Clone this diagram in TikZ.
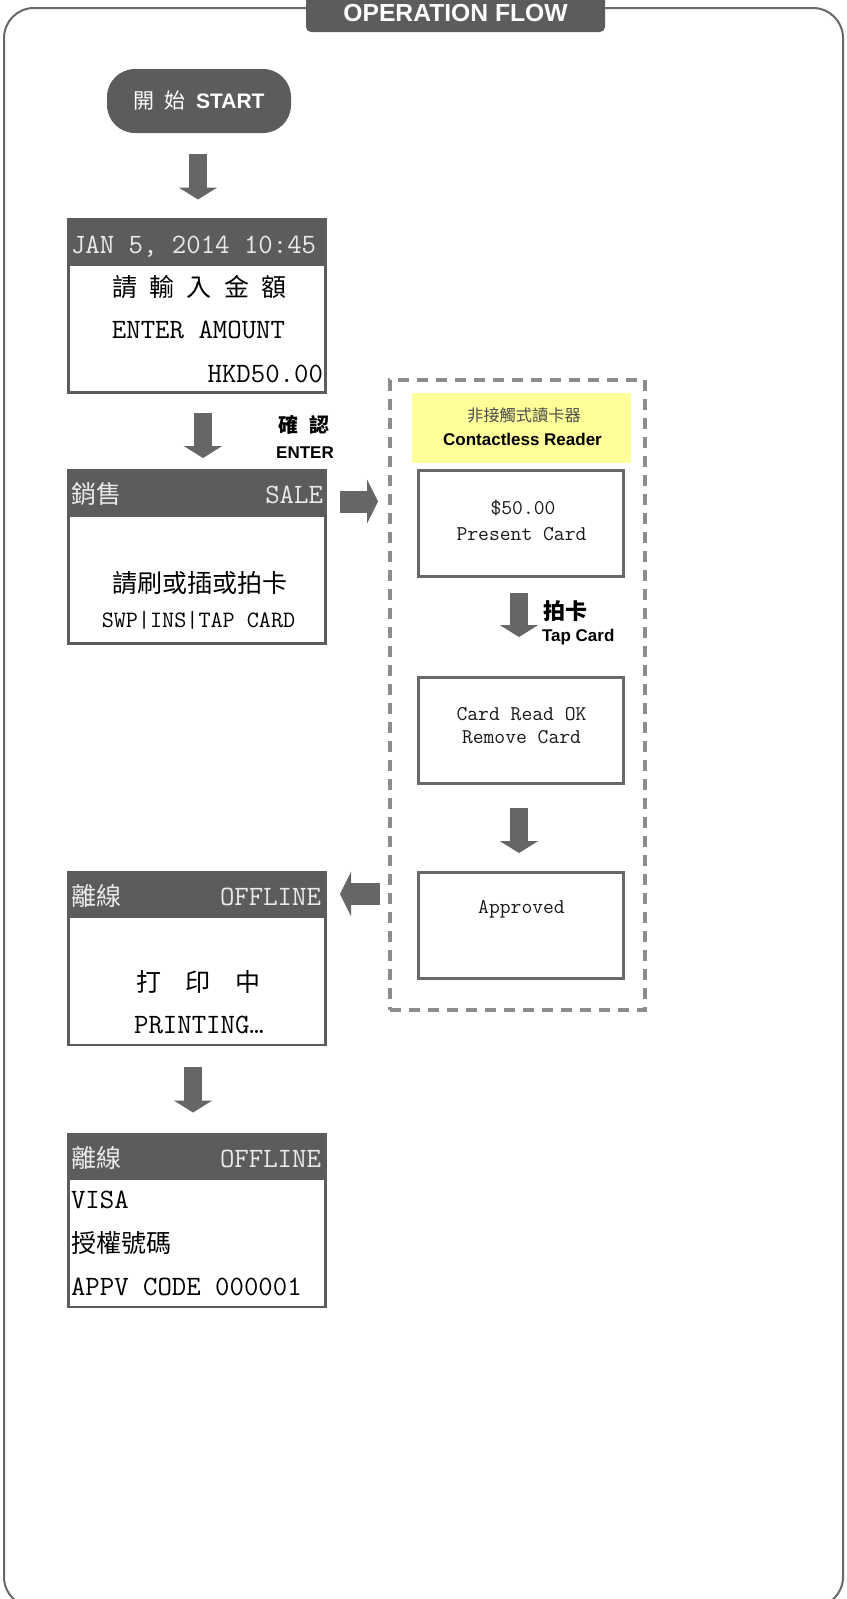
\documentclass[tikz,border=0pt]{standalone}
\usepackage{fontspec}
\setsansfont{Liberation Sans}
\newfontfamily\cjk[WordSpace=2.2]{Noto Sans CJK TC}
\usetikzlibrary{arrows.meta,calc}
\definecolor{panel}{HTML}{5C5C5C}
\definecolor{rim}{HTML}{686868}
\definecolor{flowgray}{HTML}{666666}
\definecolor{dashgray}{HTML}{8C8C8C}
\definecolor{hdrtext}{HTML}{EAEAEA}
\definecolor{readerbg}{HTML}{FFFF99}

\begin{document}
\begin{tikzpicture}[
        x=0.75pt, y=-0.75pt,
        every node/.style={inner sep=0pt, outer sep=0pt},
        screen/.style={draw=panel, line width=1.9pt,
                minimum width=192.75pt, minimum height=129.75pt},
        rdrbox/.style={draw=rim, line width=2.25pt,
                minimum width=153.75pt, minimum height=79.5pt},
        flowv/.style={draw=flowgray, line width=13.5pt,
                -{Triangle[length=9pt, width=28.5pt]}},
        flowh/.style={draw=flowgray, line width=16.5pt,
                -{Triangle[length=8.25pt, width=33pt]}},
        hdrtxt/.style={text=hdrtext, font=\ttfamily\fontsize{21}{24}\selectfont},
        hdrcjk/.style={text=hdrtext, font=\cjk\fontsize{18.75}{22}\selectfont},
        lcd/.style={text=black, font=\ttfamily\fontsize{21}{24}\selectfont},
        lcdcjk/.style={text=black, font=\cjk\fontsize{18.75}{22}\selectfont},
        rdr/.style={text=black!90, font=\ttfamily\fontsize{15.75}{18}\selectfont},
        cue/.style={font=\sffamily\bfseries\fontsize{12.75}{15}\selectfont},
        cuecjk/.style={font=\cjk\bfseries\fontsize{15.5}{18}\selectfont}
    ]

    \useasboundingbox (0,0) rectangle (846,1599);
    \clip (0,0) rectangle (846,1599);
    \fill[white] (0,0) rectangle (846,1599);

    % =============== outer frame and title tab ===============
    \draw[rim, line width=1.5pt, rounded corners=22.5pt] (4,8) rectangle (843,1607);
    \fill[panel, rounded corners=3.75pt] (306,-20) rectangle (605,32);
    \node[text=white, font=\sffamily\bfseries\fontsize{18.5}{22}\selectfont]
    (title) at (455.5,13) {OPERATION FLOW};

    % =============== start ===============
    \node[fill=panel, text=white, rounded corners=21pt,
        minimum width=138pt, minimum height=48pt,
        font=\sffamily\bfseries\fontsize{15.75}{18}\selectfont]
    (start) at (199,101) {{\cjk\mdseries 開 始 }START};

    % =============== screen 1: amount ===============
    \node[screen] (scr1) at (197,306) {};
    \fill[panel] (scr1.north west) rectangle ($(scr1.north east)+(0,46)$);
    \node[hdrtxt, anchor=base west] (scr1hdr) at (71,253) {JAN 5, 2014 10:45};
    \node[lcdcjk] (scr1zh) at (199.5,287) {請 輸 入 金 額};
    \node[lcd, anchor=base] (scr1en) at (198.5,338) {ENTER AMOUNT};
    \node[lcd, anchor=base east] (scr1amt) at (323,382) {HKD50.00};

    % =============== screen 2: sale ===============
    \node[screen] (scr2) at (197,557) {};
    \fill[panel] (scr2.north west) rectangle ($(scr2.north east)+(0,46)$);
    \node[hdrcjk, anchor=west] (scr2hdrzh) at (71,494) {銷售};
    \node[hdrtxt, anchor=base east] (scr2hdr) at (323,503) {SALE};
    \node[lcdcjk] (scr2zh) at (199.5,583) {請刷或插或拍卡};
    \node[lcd, anchor=base, font=\ttfamily\fontsize{17.6}{20}\selectfont]
    (scr2en) at (198.5,627) {SWP|INS|TAP CARD};

    % =============== contactless reader ===============
    \node[draw=dashgray, line width=3pt, dash pattern=on 8.25pt off 6pt,
        minimum width=191.25pt, minimum height=472.5pt] (reader) at (517.5,695) {};
    \node[fill=readerbg, minimum width=164.25pt, minimum height=52.5pt]
    (rdrlabel) at (521.5,428) {};
    \node[text=black!70, font=\cjk\fontsize{12.2}{14}\selectfont]
    (rdrzh) at (524,415) {非接觸式讀卡器};
    \node[cue, anchor=base] (rdren) at (522.5,445) {Contactless Reader};

    \node[rdrbox] (boxA) at (520.5,523) {};
    \node[rdr, anchor=base] (boxAamt) at (523,514) {\$50.00};
    \node[rdr, anchor=base] (boxAmsg) at (521.5,540) {Present Card};

    \node[rdrbox] (boxB) at (520.5,730) {};
    \node[rdr, anchor=base] (boxBok) at (521.5,720) {Card Read OK};
    \node[rdr, anchor=base] (boxBmsg) at (521.5,743) {Remove Card};

    \node[rdrbox] (boxC) at (520.5,925) {};
    \node[rdr, anchor=base] (boxCmsg) at (521.5,913) {Approved};

    % =============== screen 3: printing ===============
    \node[screen] (scr3) at (197,958.5) {};
    \fill[panel] (scr3.north west) rectangle ($(scr3.north east)+(0,46)$);
    \node[hdrcjk, anchor=west] (scr3hdrzh) at (71,896) {離線};
    \node[hdrtxt, anchor=base east] (scr3hdr) at (321,905) {OFFLINE};
    \node[lcdcjk] (scr3zh) at (198.5,982) {打~~印~~中};
    \node[lcd, anchor=base] (scr3en) at (199,1033) {PRINTING…};

    % =============== screen 4: approval code ===============
    \node[screen] (scr4) at (197,1220.5) {};
    \fill[panel] (scr4.north west) rectangle ($(scr4.north east)+(0,46)$);
    \node[hdrcjk, anchor=west] (scr4hdrzh) at (71,1158) {離線};
    \node[hdrtxt, anchor=base east] (scr4hdr) at (321,1167) {OFFLINE};
    \node[lcd, anchor=base west] (scr4card) at (71,1208) {VISA};
    \node[lcdcjk, anchor=west] (scr4zh) at (71,1243) {授權號碼};
    \node[lcd, anchor=base west] (scr4code) at (71,1295) {APPV CODE 000001};

    % =============== flow arrows ===============
    \draw[flowv] ($(start.south)+(-1,21)$) -- ($(scr1.north)+(1,-20)$);
    \draw[flowv] ($(scr1.south)+(6,20.5)$) -- ($(scr2.north)+(6,-12.5)$);
    \node[cuecjk, font=\cjk\bfseries\fontsize{15}{18}\selectfont]
    (enterzh) at (304,425) {確 認};
    \node[cue, anchor=base] (enteren) at (305,458) {ENTER};

    \draw[flowh] ($(scr2.north east)+(14,31)$) -- ($(scr2.north east -| reader.west)+(-12,31)$);

    \draw[flowv] ($(boxA.south)+(-1.5,17)$) -- ($(boxB.north)+(-1.5,-40)$);
    \node[cuecjk, font=\cjk\bfseries\fontsize{16.5}{19}\selectfont]
    (tapzh) at (565,611) {拍卡};
    \node[cue, anchor=base west] (tapen) at (542,641) {Tap Card};
    \draw[flowv] ($(boxB.south)+(-1.5,25)$) -- ($(boxC.north)+(-1.5,-19)$);

    \draw[flowh] ($(scr3.north east -| reader.west)+(-10,22)$) -- ($(scr3.north east)+(14.5,22)$);

    \draw[flowv] ($(scr3.south)+(-4,22)$) -- ($(scr4.north)+(-4,-21.5)$);

\end{tikzpicture}
\end{document}
